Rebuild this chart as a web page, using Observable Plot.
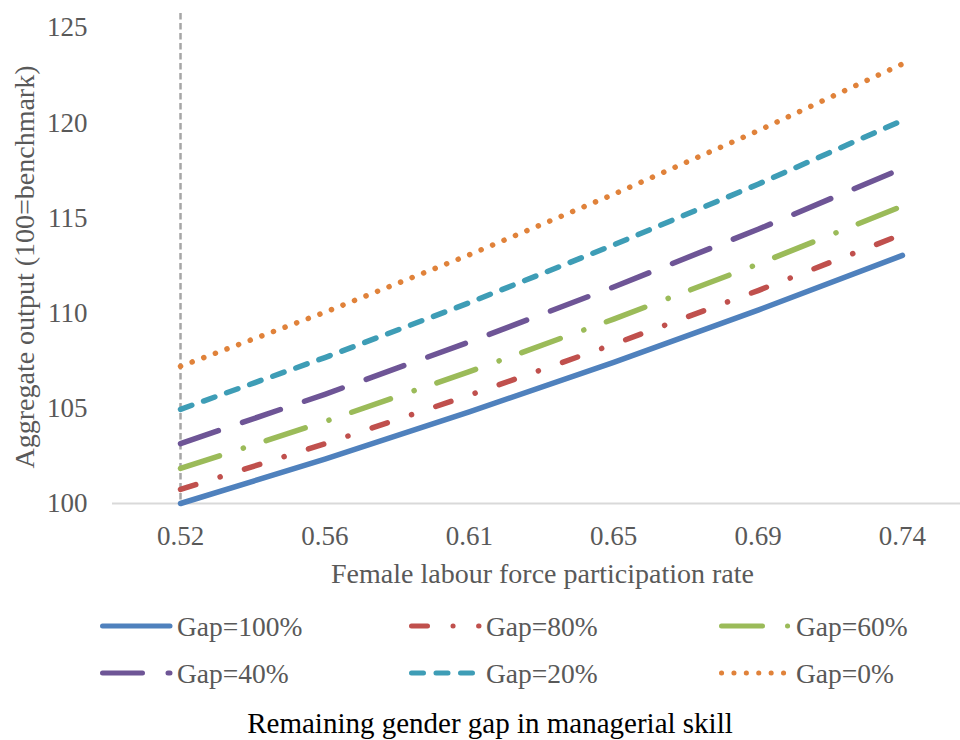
<!DOCTYPE html>
<html><head><meta charset="utf-8">
<script src="https://cdn.jsdelivr.net/npm/d3@7"></script>
<script src="https://cdn.jsdelivr.net/npm/@observablehq/plot@0.6"></script>
<style>
body{margin:0;background:#fff}
#wrap{position:relative;width:960px;height:740px;overflow:hidden;background:#fff}
#wrap svg{display:block}
</style></head><body><div id="wrap"></div>
<script>
const categories = ["0.52","0.56","0.61","0.65","0.69","0.74"];
const seriesNames = ["Gap=100%","Gap=80%","Gap=60%","Gap=40%","Gap=20%","Gap=0%"];
const gap100 = [100.00,102.33,104.81,107.42,110.16,113.04];
const gap80  = [100.74,103.14,105.69,108.37,111.19,114.15];
const gap60  = [101.84,104.31,106.93,109.69,112.58,115.63];
const gap40  = [103.15,105.74,108.49,111.38,114.41,117.61];
const gap20  = [104.95,107.67,110.55,113.59,116.78,120.13];
const gap0   = [107.21,110.05,113.07,116.25,119.59,123.10];
const yTicks = [100,105,110,115,120,125];
const xTitle = "Female labour force participation rate";
const yTitle = "Aggregate output (100=benchmark)";
const caption = "Remaining gender gap in managerial skill";

const seriesValues = [gap100, gap80, gap60, gap40, gap20, gap0];
const colors = ["#4F81BD","#C0504D","#9BBB59","#6E5596","#3E9DB6","#E0823A"];
const dashes = [null, "16 25.5 0.1 25.5", "41 25 0.1 24", "40 25.5", "12 12.5", "0.1 12.3"];

const rows = [];
seriesNames.forEach((name, k) => seriesValues[k].forEach((v, i) => rows.push({series: name, i, cat: categories[i], value: v})));

const font = "'Liberation Serif','Times New Roman',serif";
const grey = "#595959";

const plot = Plot.plot({
  width: 960, height: 600,
  marginLeft: 112, marginRight: 0, marginTop: 13, marginBottom: 97,
  style: {fontFamily: font, fontSize: "27px", color: grey, background: "#fff", overflow: "visible"},
  x: {type: "linear", domain: [-0.471, 5.402], axis: null},
  y: {domain: [100, 125.75], axis: null},
  marks: [
    Plot.ruleX([0], {stroke: "#A6A6A6", strokeWidth: 2.5, strokeDasharray: "6.5 3.5"}),
    Plot.ruleY([100], {stroke: "#D9D9D9", strokeWidth: 2}),
    ...seriesNames.map((name, k) => Plot.line(rows.filter(r => r.series === name), {
      x: "i", y: "value", stroke: colors[k], strokeWidth: 5.5,
      strokeDasharray: dashes[k] || undefined, strokeLinecap: "round", strokeLinejoin: "round"
    })),
    Plot.axisY({ticks: yTicks, tickSize: 0, tickPadding: 25, label: null, fill: grey}),
    Plot.axisX({ticks: d3.range(categories.length), tickFormat: i => categories[i], tickSize: 0, tickPadding: 22, label: null, fill: grey}),
    Plot.text([xTitle], {text: d => d, frameAnchor: "bottom", textAnchor: "middle", dy: 79, dx: 6, fontSize: 28, fill: grey}),
    Plot.text([yTitle], {text: d => d, frameAnchor: "left", textAnchor: "middle", rotate: -90, dx: -87.5, dy: 8.5, fontSize: 28, fill: grey})
  ]
});
const wrap = document.getElementById("wrap");
wrap.appendChild(plot);

// Legend and caption below the plot
const leg = d3.create("svg").attr("width", 960).attr("height", 140)
  .style("font-family", font).style("display", "block");
const colX = [100, 409, 719];
const rowY = [26, 73];
seriesNames.forEach((name, k) => {
  const cx = colX[k % 3], cy = rowY[Math.floor(k / 3)];
  const ln = leg.append("line")
    .attr("x1", cx + 2.5).attr("x2", cx + 70).attr("y1", cy).attr("y2", cy)
    .attr("stroke", colors[k]).attr("stroke-width", 5).attr("stroke-linecap", "round");
  if (dashes[k]) ln.attr("stroke-dasharray", dashes[k]);
  leg.append("text").attr("x", cx + 77).attr("y", cy + 9.5)
    .attr("font-size", 27.5).attr("fill", grey).text(name);
});
leg.append("text").attr("x", 490).attr("y", 133).attr("text-anchor", "middle")
  .attr("font-size", 29).attr("fill", "#000").text(caption);
wrap.appendChild(leg.node());
</script></body></html>
